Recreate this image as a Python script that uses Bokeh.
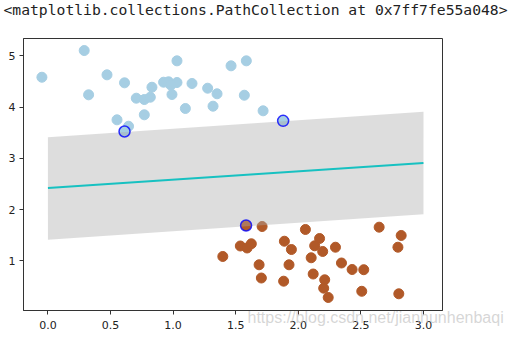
from bokeh.plotting import figure
from bokeh.models import Range1d, Title, FixedTicker, CustomJSTickFormatter
from bokeh.embed import file_html
from bokeh.resources import INLINE

# class 0 (light blue)
x0 = [-0.048, 0.290, 0.325, 0.472, 0.612, 0.552, 0.644, 0.612, 0.706, 0.770,
      0.818, 0.831, 0.770, 0.924, 0.964, 1.031, 0.982, 0.991, 1.031, 1.151,
      1.098, 1.276, 1.351, 1.319, 1.463, 1.585, 1.569, 1.719, 1.879]
y0 = [4.582, 5.103, 4.239, 4.629, 4.473, 3.751, 3.626, 3.523, 4.173, 4.147,
      4.192, 4.387, 3.849, 4.485, 4.493, 4.479, 4.430, 4.245, 4.902, 4.460,
      3.972, 4.368, 4.259, 4.017, 4.805, 4.902, 4.231, 3.927, 3.732]
# class 1 (brown)
x1 = [1.583, 1.711, 1.397, 1.537, 1.591, 1.625, 1.889, 1.945, 1.687, 1.926,
      1.705, 1.883, 2.057, 2.170, 2.131, 2.195, 2.297, 2.103, 2.345, 2.430,
      2.523, 2.119, 2.211, 2.203, 2.239, 2.507, 2.646, 2.822, 2.796, 2.803]
y1 = [1.689, 1.669, 1.084, 1.289, 1.250, 1.332, 1.382, 1.220, 0.922, 0.922,
      0.664, 0.602, 1.611, 1.435, 1.293, 1.182, 1.265, 1.059, 0.957, 0.830,
      0.826, 0.742, 0.629, 0.465, 0.284, 0.405, 1.656, 1.494, 1.265, 0.356]
# support vectors
sv_x = [0.612, 1.879, 1.583]
sv_y = [3.523, 3.732, 1.689]
# fitted line and margin band
xfit = [0.0, 3.0]
yfit = [2.42, 2.91]
y_low = [1.41, 1.91]
y_high = [3.41, 3.91]

x_ticks = [0.0, 0.5, 1.0, 1.5, 2.0, 2.5, 3.0]
y_ticks = [1, 2, 3, 4, 5]

W, H = 510, 337
p = figure(width=W, height=H, output_backend="svg", toolbar_location=None,
           x_range=Range1d(-0.195, 3.152), y_range=Range1d(0.030, 5.338))
p.min_border = 0
p.min_border_left = 23
p.min_border_right = 68
p.min_border_top = 38
p.min_border_bottom = 27
p.background_fill_color = "white"
p.border_fill_color = "white"
p.outline_line_color = "#333333"
p.outline_line_width = 1
p.grid.visible = False
p.title.text = ""

for ax in (p.xaxis[0], p.yaxis[0]):
    ax.axis_line_color = "#333333"
    ax.major_tick_line_color = "#333333"
    ax.major_tick_in = 0
    ax.major_tick_out = 4
    ax.minor_tick_line_color = None
    ax.major_label_text_font = "DejaVu Sans"
    ax.major_label_text_font_size = "11px"
    ax.major_label_text_color = "#222222"
p.xaxis[0].major_label_standoff = 6
p.yaxis[0].major_label_standoff = 4
p.xaxis[0].ticker = FixedTicker(ticks=x_ticks)
p.yaxis[0].ticker = FixedTicker(ticks=y_ticks)
p.xaxis[0].formatter = CustomJSTickFormatter(code="return tick.toFixed(1);")
p.yaxis[0].formatter = CustomJSTickFormatter(code="return tick.toFixed(0);")

p.scatter(x0, y0, size=10, fill_color="#a6cee3", line_color="#a6cee3")
p.scatter(x1, y1, size=10, fill_color="#b15928", line_color="#b15928")
p.varea(x=xfit, y1=y_low, y2=y_high, fill_color="#AAAAAA", fill_alpha=0.4)
p.line(xfit, yfit, line_color="#17c1c1", line_width=2)
p.scatter(sv_x, sv_y, size=11, fill_color=None, line_color="#0000ff",
          line_alpha=0.8, line_width=1.5)

# blank spacer between the frame and the top text
spacer = Title(text=" ", text_font="DejaVu Sans Mono", text_font_size="14.7px",
               text_font_style="normal", standoff=0)
p.add_layout(spacer, "above")
top_text = Title(text="<matplotlib.collections.PathCollection at 0x7ff7fe55a048>",
                 text_font="DejaVu Sans Mono", text_font_size="14.7px",
                 text_font_style="normal", text_color="#222222",
                 align="left", offset=-20, standoff=0, vertical_align="top")
p.add_layout(top_text, "above")

wm = Title(text="https://blog.csdn.net/jianhunhenbaqi",
           text_font="Liberation Sans", text_font_size="16px",
           text_font_style="normal", text_color="#bbbbbb", text_alpha=0.6,
           align="left", offset=224, standoff=-46, vertical_align="top")
p.add_layout(wm, "below")

open("out.html", "w").write(file_html(p, INLINE))
